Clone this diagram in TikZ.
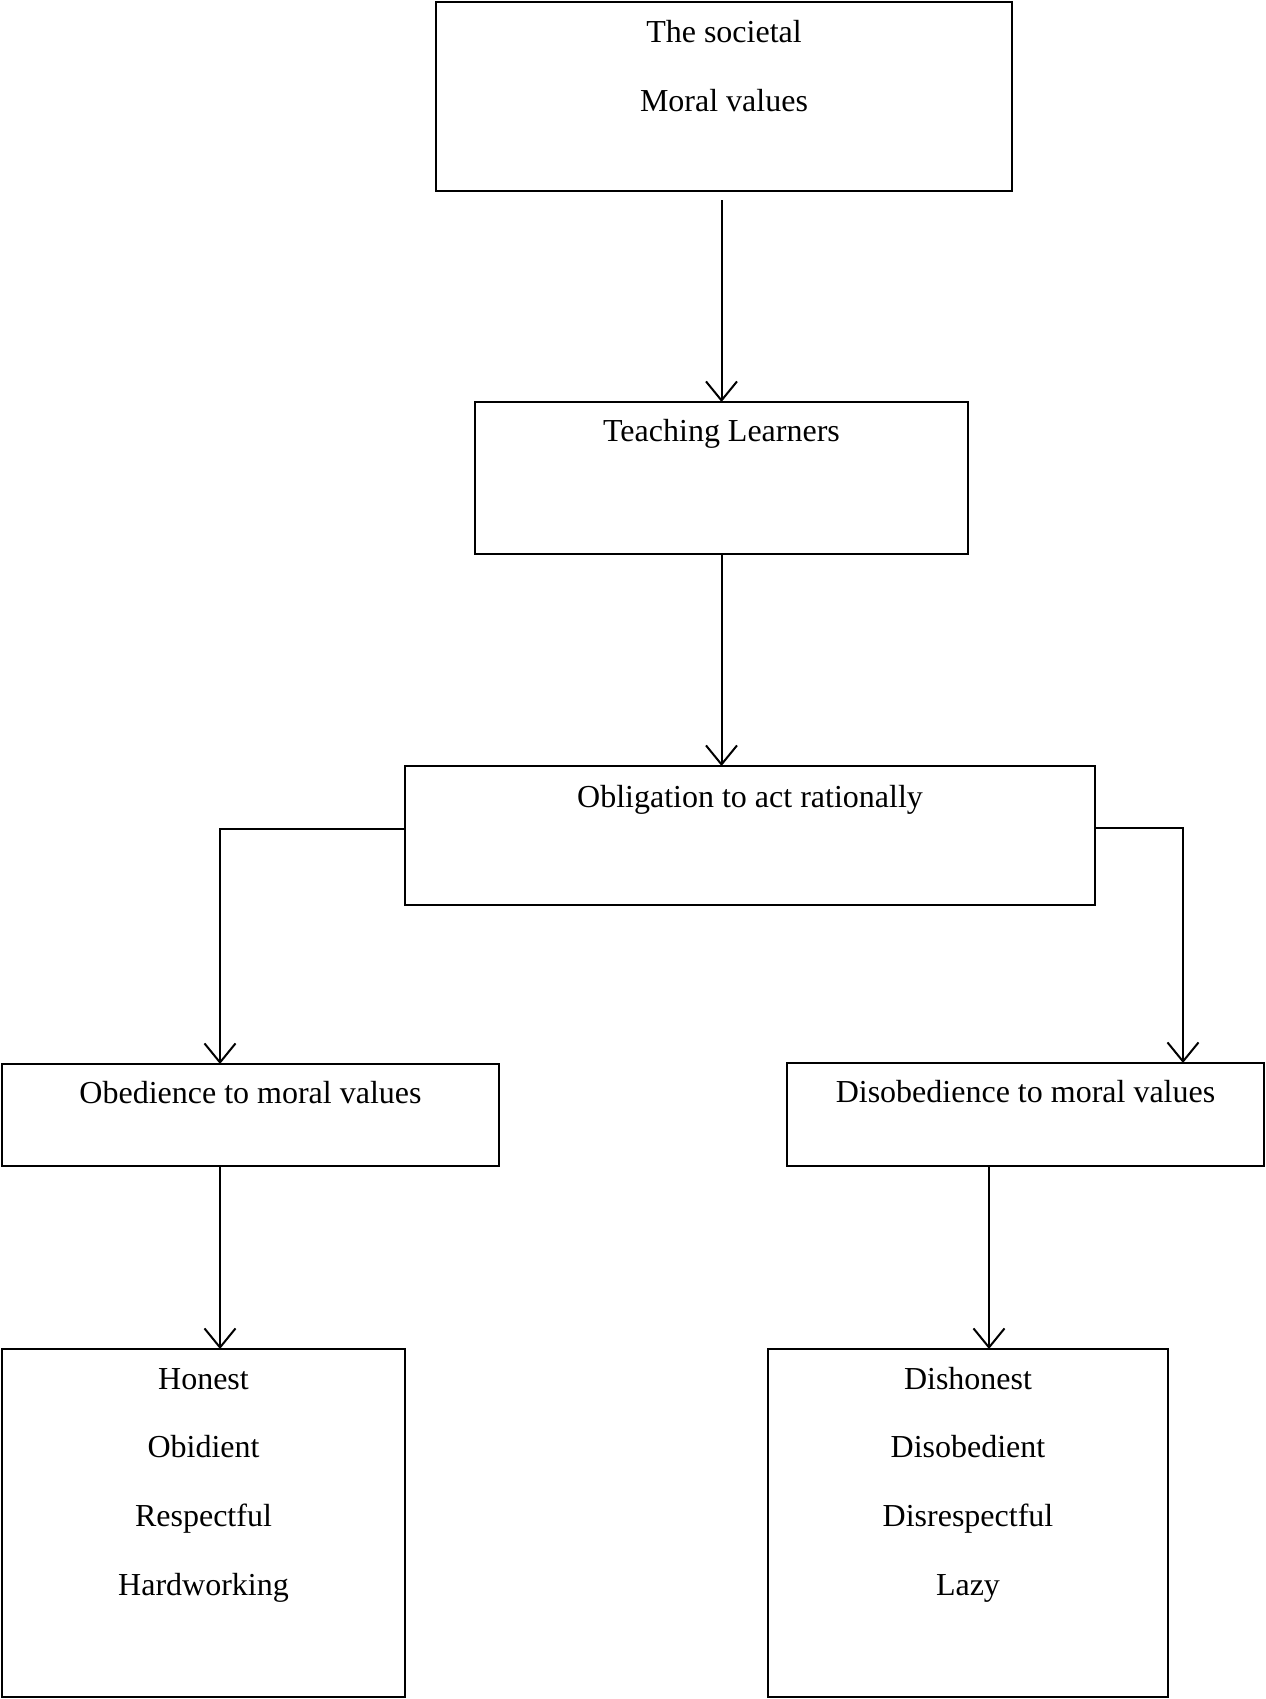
\documentclass[tikz,border=0pt]{standalone}
\usepackage{fontspec}
\setmainfont{Liberation Serif}
\usetikzlibrary{arrows.meta}
\begin{document}
\begin{tikzpicture}[x=0.5pt,y=-0.5pt,
  box/.style={draw, line width=0.8pt, inner sep=0pt, outer sep=0pt},
  txt/.style={anchor=base, inner sep=0pt, font=\fontsize{16}{19}\selectfont},
  arr/.style={draw, line width=1pt, -{Straight Barb[length=9.5pt,width=15.5pt,line width=1pt]}}]
\useasboundingbox (0,0) rectangle (1265,1699);
% boxes
\node[box, minimum width=288pt, minimum height=94.5pt] (b1) at (724,96.5) {};
\node[box, minimum width=246.5pt, minimum height=76pt] (b2) at (721.5,478) {};
\node[box, minimum width=345pt, minimum height=69.5pt] (b3) at (750,835.5) {};
\node[box, minimum width=248.5pt, minimum height=51pt] (b4) at (250.5,1115) {};
\node[box, minimum width=238.5pt, minimum height=51.5pt] (b5) at (1025.5,1114.5) {};
\node[box, minimum width=201.5pt, minimum height=174pt] (b6) at (203.5,1523) {};
\node[box, minimum width=200pt, minimum height=174pt] (b7) at (968,1523) {};
% texts
\node[txt] (t1a) at (724,42) {The societal};
\node[txt] (t1b) at (724,111) {Moral values};
\node[txt] (t2) at (721.5,441) {Teaching Learners};
\node[txt] (t3) at (750,807) {Obligation to act rationally};
\node[txt] (t4) at (250.5,1103) {Obedience to moral values};
\node[txt] (t5) at (1025.5,1102) {Disobedience to moral values};
\node[txt] (t6a) at (203.5,1389) {Honest};
\node[txt] (t6b) at (203.5,1457.5) {Obidient};
\node[txt] (t6c) at (203.5,1526.5) {Respectful};
\node[txt] (t6d) at (203.5,1595.5) {Hardworking};
\node[txt] (t7a) at (968,1389) {Dishonest};
\node[txt] (t7b) at (968,1457.5) {Disobedient};
\node[txt] (t7c) at (968,1526.5) {Disrespectful};
\node[txt] (t7d) at (968,1595.5) {Lazy};
% column coordinates
\coordinate (lx) at (220,0);
\coordinate (rx) at (1183,0);
\coordinate (r2) at (989,0);
% connectors
\draw[arr, shorten <=4.5pt] (b2.north |- b1.south) -- (b2.north);
\draw[arr] (b2.south) -- (b2.south |- b3.north);
\draw[arr] ([yshift=3.25pt]b3.west) -| (lx |- b4.north);
\draw[arr] ([yshift=3.75pt]b3.east) -| (rx |- b5.north);
\draw[arr] (lx |- b4.south) -- (lx |- b6.north);
\draw[arr] (r2 |- b5.south) -- (r2 |- b7.north);
\end{tikzpicture}
\end{document}
